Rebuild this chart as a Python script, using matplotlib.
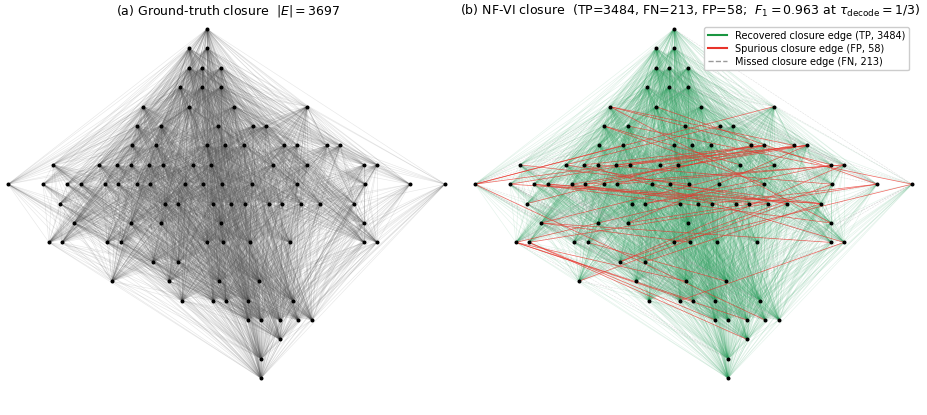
import numpy as np
import matplotlib
matplotlib.use("Agg")
import matplotlib.pyplot as plt
from matplotlib.collections import LineCollection
from matplotlib.lines import Line2D

# node x positions (pixels) per layer
layers_x = [
    [207],
    [189, 207],
    [189, 202, 221],
    [180, 202, 221],
    [143, 189, 234, 307],
    [137, 161, 218, 253, 266],
    [132, 156, 207, 225, 244, 284, 297, 327, 340],
    [53, 99, 117, 131, 149, 163, 193, 211, 273, 307, 364, 377],
    [8, 43, 67, 81, 105, 118, 137, 150, 185, 203, 222, 252, 297, 365, 410, 445],
    [60, 165, 178, 213, 231, 245, 269, 282, 301, 320, 354],
    [74, 131, 161, 221, 364],
    [49, 62, 107, 121, 207, 223, 250, 290, 364, 377],
    [153, 178],
    [112, 169, 219, 259],
    [182, 213, 226, 248, 293],
    [248, 261, 280, 298, 312],
    [280],
    [261],
    [261],
]
layer_y0, layer_dy = 29.0, 19.4
n_true, n_tp, n_fn, n_fp = 3697, 3484, 213, 58

xs, ys, ls = [], [], []
for li, row in enumerate(layers_x):
    for x in row:
        xs.append(x); ys.append(layer_y0 + li * layer_dy); ls.append(li)
xs, ys, ls = np.array(xs, float), np.array(ys), np.array(ls)
N = len(xs)

# reachability: cone rule, ranked so the closure has n_true edges
pairs = [(i, j) for i in range(N) for j in range(N) if ls[j] > ls[i]]
pi = np.array([p[0] for p in pairs]); pj = np.array([p[1] for p in pairs])
dl = ls[pj] - ls[pi]; dx = np.abs(xs[pj] - xs[pi])
ratio = dx / (dl * 1.0 + 4.0)
order = np.argsort(ratio, kind="stable")
true_idx = order[:n_true]
fn_idx = true_idx[-n_fn:]
tp_idx = true_idx[:n_true - n_fn]
rest = order[n_true:]
fp_idx = rest[::max(1, len(rest) // n_fp)][:n_fp]

def segs(idx):
    return [[(xs[pi[k]], ys[pi[k]]), (xs[pj[k]], ys[pj[k]])] for k in idx]

fig = plt.figure(figsize=(9.27, 4.15), dpi=100)
W, H = 927, 415
def make_ax(left):
    ax = fig.add_axes([left / W, 1 - 390 / H, 460 / W, 370 / H])
    ax.set_xlim(0, 460); ax.set_ylim(390, 20); ax.axis("off")
    return ax

ax1 = make_ax(0)
ax1.add_collection(LineCollection(segs(true_idx), colors="#555555", linewidths=0.45, alpha=0.14))
ax1.scatter(xs, ys, s=3.5, c="black", zorder=3)
fig.text(228 / W, 1 - 11 / H, r"(a) Ground-truth closure  $|E| = 3697$", ha="center", va="center", fontsize=9)

ax2 = make_ax(467)
ax2.add_collection(LineCollection(segs(tp_idx), colors="#2ca25f", linewidths=0.45, alpha=0.13))
ax2.add_collection(LineCollection(segs(fn_idx), colors="#999999", linewidths=0.4, alpha=0.3, linestyles="--"))
ax2.add_collection(LineCollection(segs(fp_idx), colors="#e8332a", linewidths=0.5, alpha=0.75))
ax2.scatter(xs, ys, s=3.5, c="black", zorder=3)
fig.text(690 / W, 1 - 11 / H,
         r"(b) NF-VI closure  (TP=3484, FN=213, FP=58;  $F_1 = 0.963$ at $\tau_{\mathrm{decode}} = 1/3$)",
         ha="center", va="center", fontsize=9)
handles = [Line2D([], [], color="#1a9641", lw=1.5),
           Line2D([], [], color="#e8332a", lw=1.5),
           Line2D([], [], color="#999999", lw=1, ls="--")]
labels = [f"Recovered closure edge (TP, {n_tp})", f"Spurious closure edge (FP, {n_fp})",
          f"Missed closure edge (FN, {n_fn})"]
fig.legend(handles, labels, loc="upper right", bbox_to_anchor=(914 / W, 1 - 22 / H),
           fontsize=7, frameon=True, framealpha=1, edgecolor="#cccccc", handlelength=2,
           borderpad=0.4, labelspacing=0.3)
fig.savefig("out.png", dpi=100)
